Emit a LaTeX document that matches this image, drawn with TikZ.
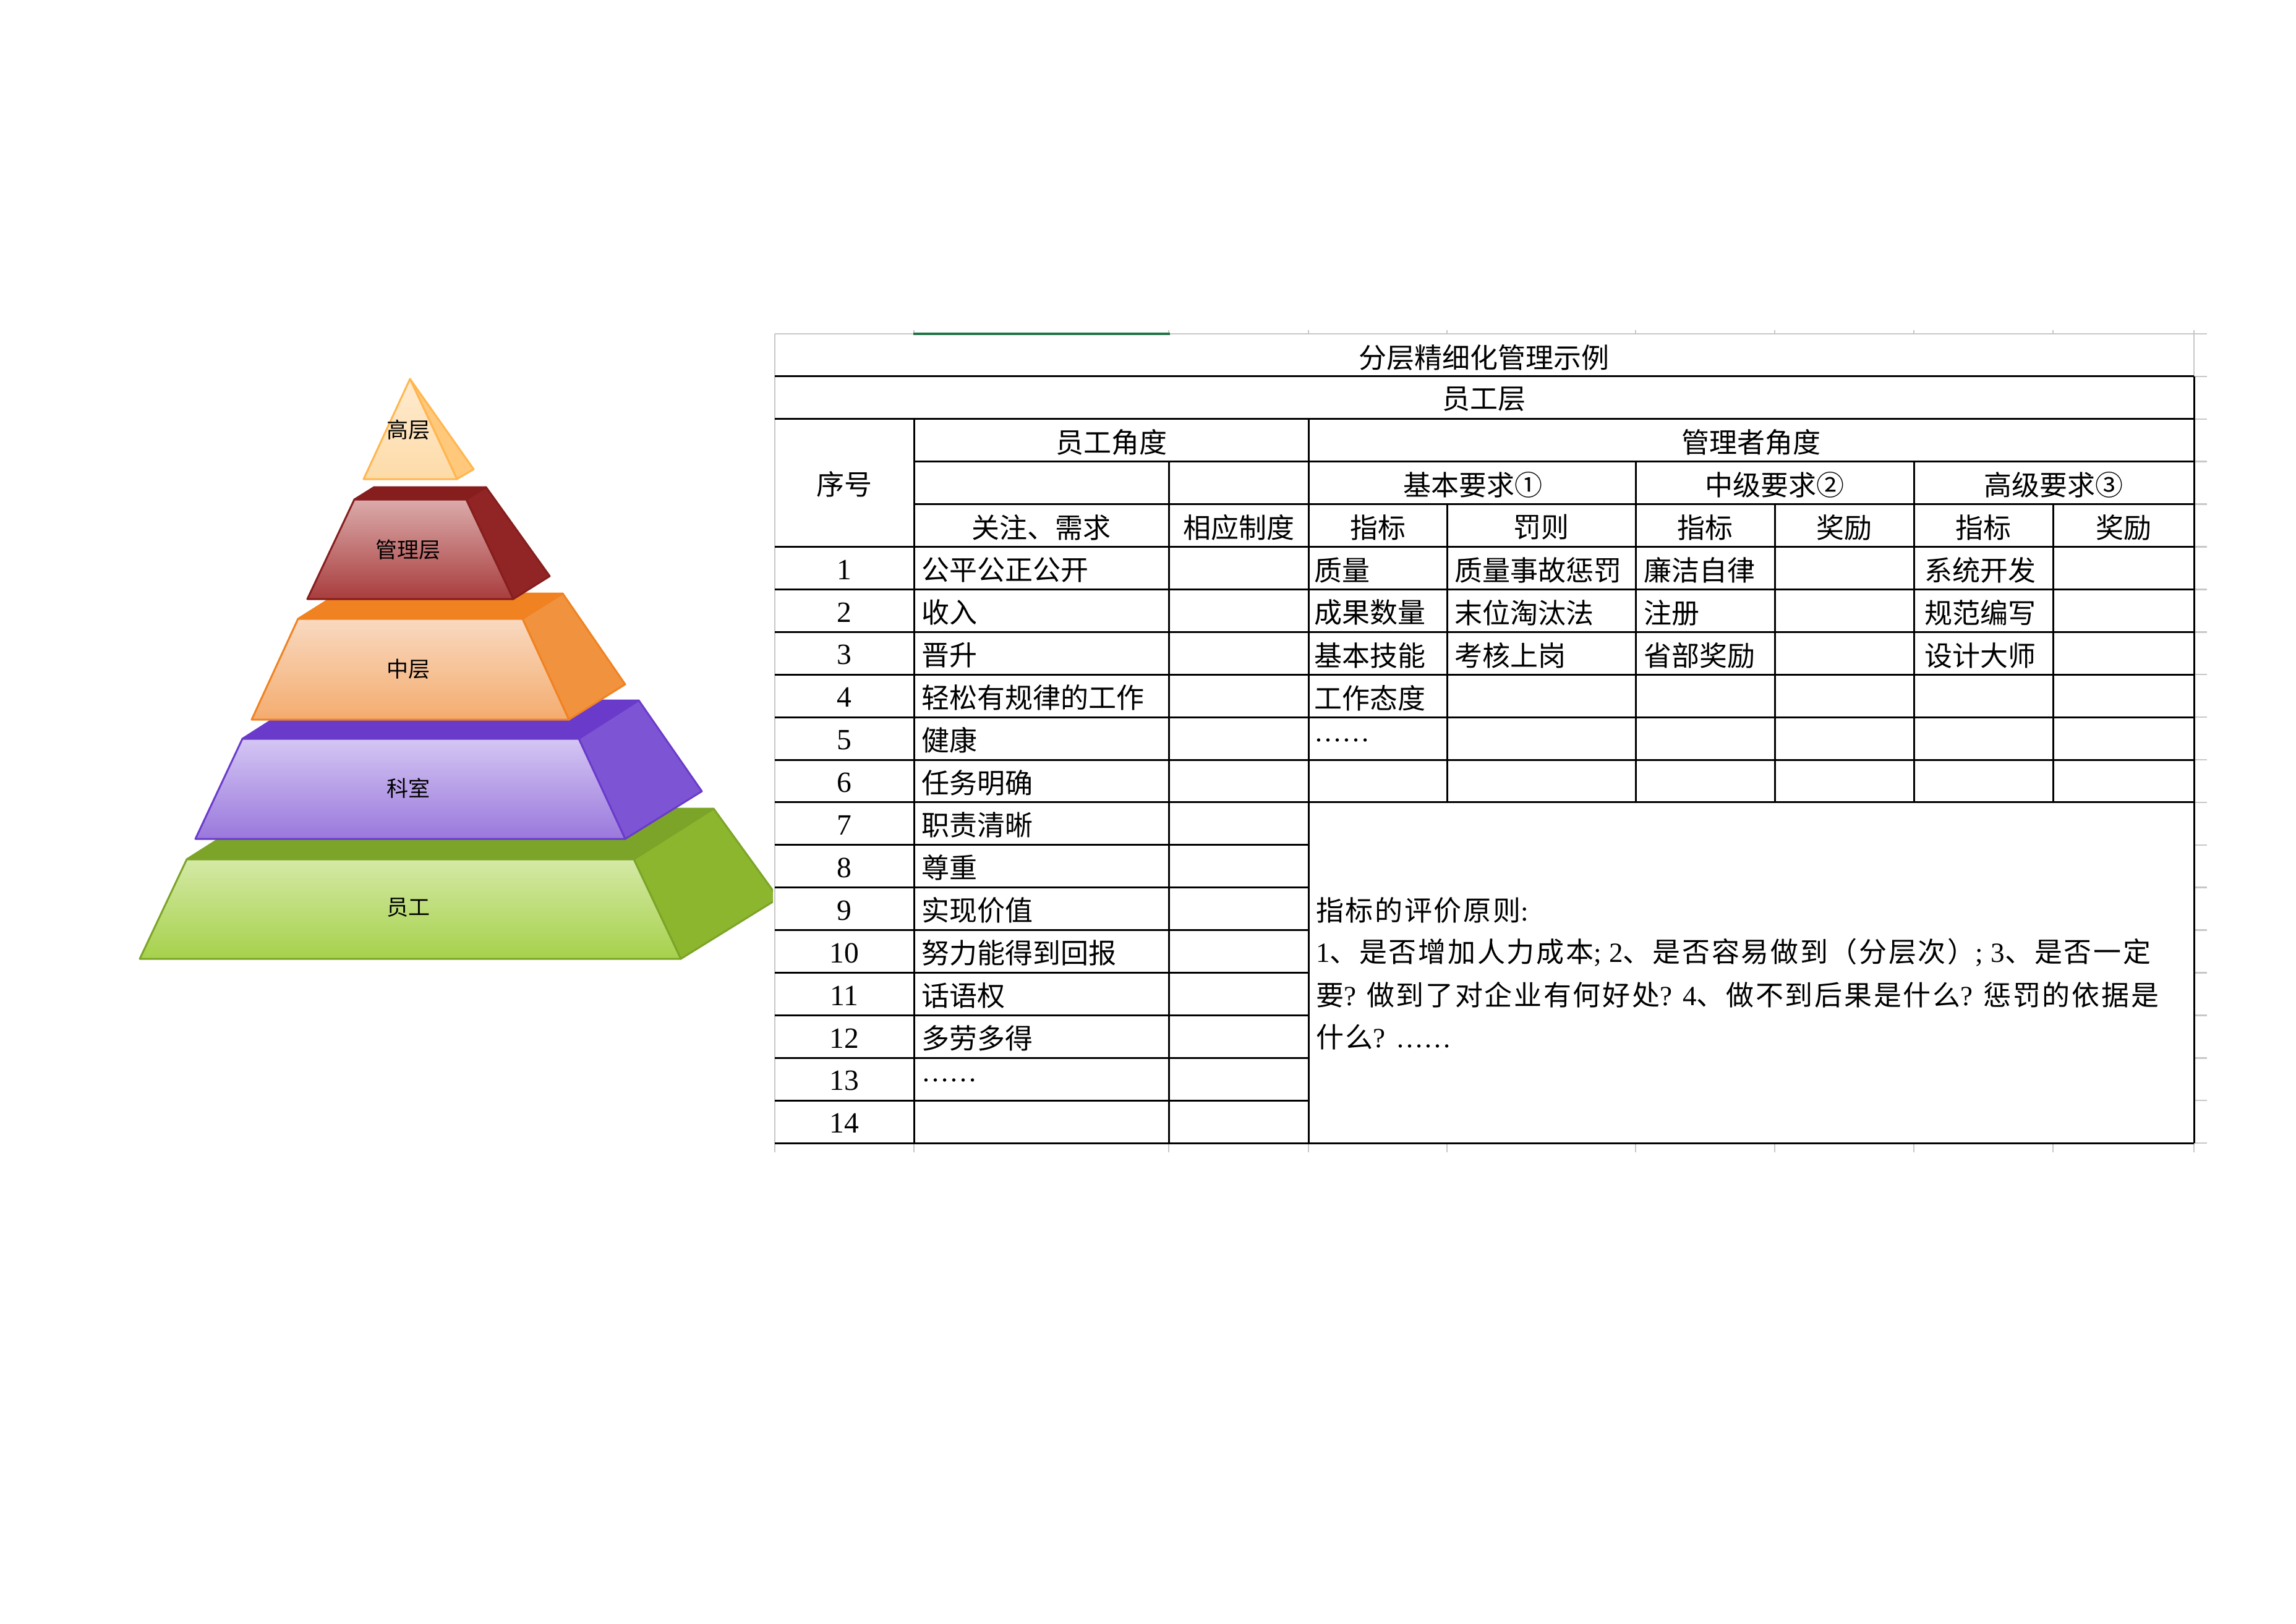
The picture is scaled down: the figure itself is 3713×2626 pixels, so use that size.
\documentclass[tikz,border=0pt]{standalone}
\usepackage{fontspec}
\setmainfont{Liberation Serif}
\newfontfamily\cjk{Noto Sans CJK SC}
\newfontfamily\cjkw[LetterSpace=6]{Noto Sans CJK SC}
\definecolor{gA}{HTML}{7BA428}\definecolor{gB}{HTML}{8CB62D}\definecolor{gT}{HTML}{D4E9A6}\definecolor{gL}{HTML}{A6D14B}
\definecolor{pA}{HTML}{6A3BCB}\definecolor{pB}{HTML}{7D55D4}\definecolor{pT}{HTML}{D4C6F3}\definecolor{pL}{HTML}{9A78DC}
\definecolor{oA}{HTML}{F08221}\definecolor{oB}{HTML}{F1923E}\definecolor{oT}{HTML}{F9D9C0}\definecolor{oL}{HTML}{F4AC6F}
\definecolor{rA}{HTML}{861E1E}\definecolor{rB}{HTML}{912424}\definecolor{rT}{HTML}{DBABAB}\definecolor{rL}{HTML}{A93D3D}
\definecolor{yA}{HTML}{FFB64F}\definecolor{yB}{HTML}{FFC87A}\definecolor{yT}{HTML}{FFEBD0}\definecolor{yL}{HTML}{FDDBA8}
\definecolor{xlgreen}{HTML}{217346}
\tikzset{
  blk/.style={line width=0.6pt, black},
  gry/.style={line width=0.5pt, black!22},
  cell/.style={font=\cjk\fontsize{9}{10}\selectfont, inner sep=0pt},
  lcell/.style={cell, anchor=west},
  pcell/.style={font=\cjkw\fontsize{9}{10}\selectfont, inner sep=0pt, anchor=west},
  num/.style={font=\rmfamily\fontsize{9.5}{10}\selectfont, inner sep=0pt},
  dots/.style={font=\rmfamily\fontsize{9}{10}\selectfont, inner sep=0pt, anchor=west},
  plabel/.style={font=\cjk\fontsize{7}{8}\selectfont, inner sep=0pt},
  face/.style={line width=0.6pt, line join=round},
}
\begin{document}
\begin{tikzpicture}[x=0.2pt,y=-0.2pt]
\useasboundingbox (0,0) rectangle (3713,2626);
% ---------------- pyramid ----------------
\begin{scope}
\clip (0,0) rectangle (1250,2626);
% level 5 (green)
\fill[face, gA, draw=gA] (302,1390) -- (1025,1390) -- (1154,1308) -- (431,1308) -- cycle;
\fill[face, gB, draw=gA] (1025,1390) -- (1154,1308) -- (1259,1453) -- (1101,1551) -- cycle;
\shade[top color=gT, bottom color=gL] (302,1390) -- (1025,1390) -- (1101,1551) -- (226,1551) -- cycle;
\draw[face, gA] (302,1390) -- (1025,1390) -- (1101,1551) -- (226,1551) -- cycle;
% level 4 (purple)
\fill[face, pA, draw=pA] (392,1195) -- (936,1195) -- (1033,1133) -- (489,1133) -- cycle;
\fill[face, pB, draw=pA] (936,1195) -- (1033,1133) -- (1135,1280) -- (1011,1357) -- cycle;
\shade[top color=pT, bottom color=pL] (392,1195) -- (936,1195) -- (1011,1357) -- (316,1357) -- cycle;
\draw[face, pA] (392,1195) -- (936,1195) -- (1011,1357) -- (316,1357) -- cycle;
% level 3 (orange)
\fill[face, oA, draw=oA] (482,1001) -- (845,1001) -- (910,960) -- (547,960) -- cycle;
\fill[face, oB, draw=oA] (845,1001) -- (910,960) -- (1011,1107) -- (920,1164) -- cycle;
\shade[top color=oT, bottom color=oL] (482,1001) -- (845,1001) -- (920,1164) -- (407,1164) -- cycle;
\draw[face, oA] (482,1001) -- (845,1001) -- (920,1164) -- (407,1164) -- cycle;
% level 2 (dark red)
\fill[face, rA, draw=rA] (573,808) -- (754,808) -- (786,788) -- (605,788) -- cycle;
\fill[face, rB, draw=rA] (754,808) -- (786,788) -- (889,932) -- (830,969) -- cycle;
\shade[top color=rT, bottom color=rL] (573,808) -- (754,808) -- (830,969) -- (497,969) -- cycle;
\draw[face, rA] (573,808) -- (754,808) -- (830,969) -- (497,969) -- cycle;
% level 1 (top)
\fill[face, yB, draw=yA] (663,613) -- (766,759) -- (739,775) -- cycle;
\shade[top color=yT, bottom color=yL] (663,613) -- (739,775) -- (588,775) -- cycle;
\draw[face, yA] (663,613) -- (739,775) -- (588,775) -- cycle;
\end{scope}
\node[plabel] (lv1) at (660,695) {高层};
\node[plabel] (lv2) at (660,889) {管理层};
\node[plabel] (lv3) at (660,1082) {中层};
\node[plabel] (lv4) at (660,1275) {科室};
\node[plabel] (lv5) at (660,1468) {员工};
% ---------------- table grid ----------------
% gray sheet gridlines
\draw[gry] (1253,540) -- (3569,540);
\draw[gry] (1253,540) -- (1253,1864);
\draw[gry] (3548,540) -- (3548,609);
\foreach \yy in {608.9,677.8,746.7,815.6,884.5,953.4,1022.3,1091.2,1160.1,1229,1297.9,1366.8,1435.7,1504.6,1573.5,1642.4,1711.3,1780.2,1849.1}
  \draw[gry] (3548,\yy) -- (3569,\yy);
\foreach \xx in {1478,1890,2116,2340,2645,2870,3095,3320,3548} {
  \draw[gry] (\xx,1849) -- (\xx,1864);
  \draw[gry] (\xx,534) -- (\xx,540);
}
\draw[line width=0.9pt, xlgreen] (1477,540) -- (1892,540);
% black horizontal lines
\foreach \yy in {608.9,677.8,884.5,953.4,1022.3,1091.2,1160.1,1229,1297.9,1849.1}
  \draw[blk] (1253,\yy) -- (3548,\yy);
\foreach \yy in {746.7,815.6}
  \draw[blk] (1478,\yy) -- (3548,\yy);
\foreach \yy in {1366.8,1435.7,1504.6,1573.5,1642.4,1711.3,1780.2}
  \draw[blk] (1253,\yy) -- (2116,\yy);
% black vertical lines
\draw[blk] (1478,677.8) -- (1478,1849.1);
\draw[blk] (1890,746.7) -- (1890,1849.1);
\draw[blk] (2116,677.8) -- (2116,1849.1);
\draw[blk] (2645,746.7) -- (2645,1297.9);
\draw[blk] (3095,746.7) -- (3095,1297.9);
\foreach \xx in {2340,2870,3320}
  \draw[blk] (\xx,815.6) -- (\xx,1297.9);
\draw[blk] (3548,608.9) -- (3548,1849.1);
% ---------------- table text ----------------
\node[cell] (title) at (2400,578) {分层精细化管理示例};
\node[cell] (layer) at (2400,646) {员工层};
\node[cell] (seq) at (1365,783) {序号};
\node[cell] (empv) at (1797,715) {员工角度};
\node[cell] (mgrv) at (2832,715) {管理者角度};
\node[cell] (req1) at (2382,784) {基本要求①};
\node[cell] (req2) at (2870,784) {中级要求②};
\node[cell] (req3) at (3321,784) {高级要求③};
\node[cell] (h1) at (1684,853) {关注、需求};
\node[cell] (h2) at (2003,853) {相应制度};
\node[cell] (h3) at (2228,853) {指标};
\node[cell] (h4) at (2492,853) {罚则};
\node[cell] (h5) at (2757,853) {指标};
\node[cell] (h6) at (2982,853) {奖励};
\node[cell] (h7) at (3207,853) {指标};
\node[cell] (h8) at (3434,853) {奖励};
\foreach \i in {1,...,14} {
  \pgfmathsetmacro\yc{884.5+68.9*(\i-1)+37}
  \node[num] (n\i) at (1365,\yc) {\i};
}
\foreach \i/\t in {1/公平公正公开,2/收入,3/晋升,4/轻松有规律的工作,5/健康,6/任务明确,7/职责清晰,8/尊重,9/实现价值,10/努力能得到回报,11/话语权,12/多劳多得} {
  \pgfmathsetmacro\yc{884.5+68.9*(\i-1)+37}
  \node[lcell] (need\i) at (1489,\yc) {\t};
}
\node[dots] (need13) at (1489,1747) {……};
% management columns
\node[lcell] (a1) at (2124,922) {质量};
\node[lcell] (b1) at (2351,922) {质量事故惩罚};
\node[lcell] (c1) at (2657,922) {廉洁自律};
\node[lcell] (d1) at (3111,922) {系统开发};
\node[lcell] (a2) at (2124,991) {成果数量};
\node[lcell] (b2) at (2351,991) {末位淘汰法};
\node[lcell] (c2) at (2657,991) {注册};
\node[lcell] (d2) at (3111,991) {规范编写};
\node[lcell] (a3) at (2124,1060) {基本技能};
\node[lcell] (b3) at (2351,1060) {考核上岗};
\node[lcell] (c3) at (2657,1060) {省部奖励};
\node[lcell] (d3) at (3111,1060) {设计大师};
\node[lcell] (a4) at (2124,1129) {工作态度};
\node[dots] (a5) at (2124,1197) {……};
% evaluation principles
\node[pcell] (p1) at (2127,1472) {指标的评价原则{\rmfamily :}};
\node[pcell] (p2) at (2127,1541) {{\rmfamily 1}、是否增加人力成本{\rmfamily ;} {\rmfamily 2}、是否容易做到（分层次）{\rmfamily ;} {\rmfamily 3}、是否一定};
\node[pcell] (p3) at (2127,1609) {要{\rmfamily ?} 做到了对企业有何好处{\rmfamily ?} {\rmfamily 4}、做不到后果是什么{\rmfamily ?} 惩罚的依据是};
\node[pcell] (p4) at (2127,1677) {什么{\rmfamily ?} {\rmfamily ……}};
\end{tikzpicture}
\end{document}
